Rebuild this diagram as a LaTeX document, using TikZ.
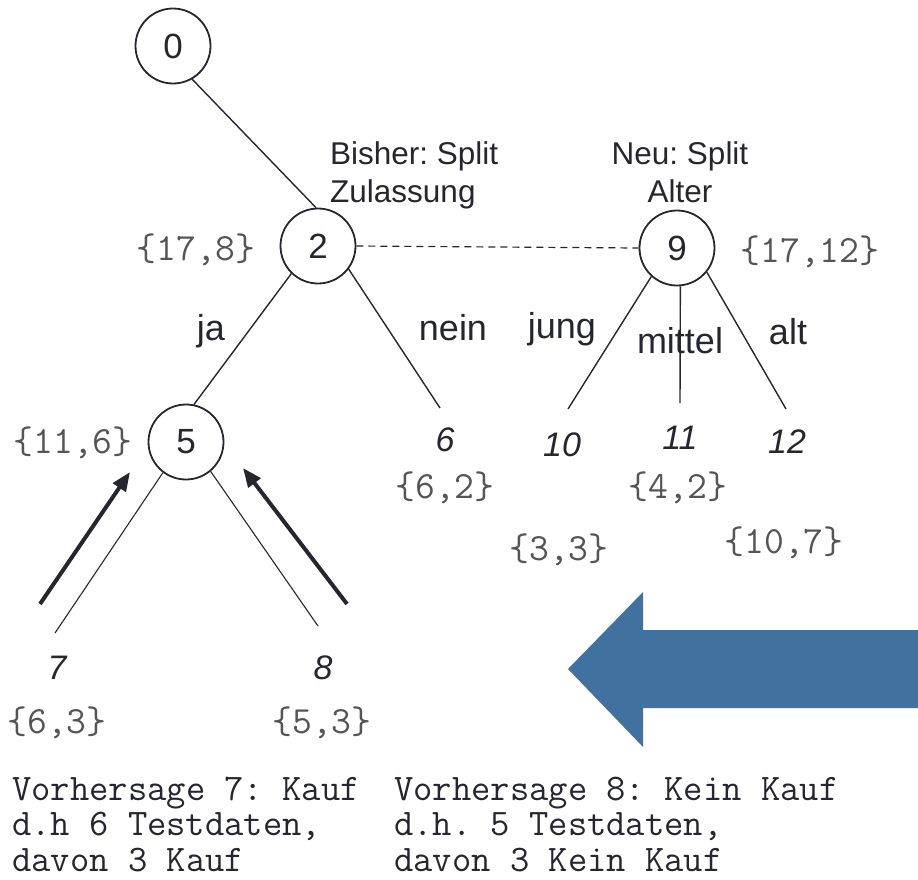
\documentclass[tikz,border=0pt]{standalone}
\usepackage{fontspec}
\setmainfont{Liberation Sans}
\usetikzlibrary{arrows.meta}
\definecolor{ink}{HTML}{262630}
\definecolor{setgray}{HTML}{555555}
\definecolor{arrowblue}{HTML}{41729F}
\frenchspacing
\begin{document}
\begin{tikzpicture}[x=1pt,y=-1pt,
 tnode/.style={circle,draw=ink,line width=1.8pt,minimum size=75pt,inner sep=0pt,font=\fontsize{35}{40}\selectfont,text=ink},
 setlbl/.style={font=\ttfamily\fontsize{38.5}{42}\selectfont,text=setgray,inner sep=0pt},
 leaf/.style={font=\itshape\fontsize{34}{40}\selectfont,text=ink,inner sep=0pt},
 elbl/.style={font=\fontsize{36}{40}\selectfont,text=ink,inner sep=0pt,anchor=base},
 edge/.style={draw=ink,line width=1.4pt},
 thinedge/.style={draw=ink,line width=1.1pt},
 back/.style={draw=ink,line width=4pt,-{Triangle[length=19pt,width=15pt]}},
 note/.style={font=\fontsize{31.5}{38}\selectfont,text=ink,inner sep=0pt},
 pred/.style={font=\ttfamily\frenchspacing\fontsize{37.5}{35.5}\selectfont,text=ink,inner sep=0pt,align=left,anchor=base west}]
\useasboundingbox (0,0) rectangle (918,879);

% tree nodes
\node[tnode] (n0) at (173,46) {0};
\node[tnode] (n2) at (318,246) {2};
\node[tnode] (n9) at (677,248) {9};
\node[tnode] (n5) at (186,442) {5};

% notes (anchor base = baseline of last line)
\node[note,align=left,anchor=base west] (bisher) at (330,202) {Bisher: Split\\Zulassung};
\node[note,align=center,anchor=base] (neu) at (680,202) {Neu: Split\\Alter};

% set labels
\node[setlbl] (s2) at (196,250) {\{17,8\}};
\node[setlbl] (s9) at (810,252) {\{17,12\}};
\node[setlbl] (s5) at (73,443) {\{11,6\}};
\node[setlbl] (s6) at (445,488) {\{6,2\}};
\node[setlbl] (s11) at (678,488) {\{4,2\}};
\node[setlbl] (s10) at (559,550) {\{3,3\}};
\node[setlbl] (s12) at (784,543) {\{10,7\}};
\node[setlbl] (s7) at (57,723) {\{6,3\}};
\node[setlbl] (s8) at (322,723) {\{5,3\}};

% leaf labels
\node[leaf] (l6) at (445,440) {6};
\node[leaf] (l10) at (562,445) {10};
\node[leaf] (l11) at (680,438) {11};
\node[leaf] (l12) at (787,442) {12};
\node[leaf] (l7) at (57,668) {7};
\node[leaf] (l8) at (323,668) {8};

% edge labels
\node[elbl] (ja) at (211,340) {ja};
\node[elbl] (nein) at (453,340) {nein};
\node[elbl] (jung) at (562,338) {jung};
\node[elbl] (mittel) at (680,353) {mittel};
\node[elbl] (alt) at (788,344) {alt};

% free ends of branches
\coordinate (e6) at (440,408);
\coordinate (e10) at (568,409);
\coordinate (e11) at (680,403);
\coordinate (e12) at (786,409);
\coordinate (e7) at (55,633);
\coordinate (e8) at (318,626);

% connectors
\draw[edge] (n0.-60) -- (n2.93);
\draw[edge] (n2.226) -- (n5.78);
\draw[edge] (n2.-37) -- (e6);
\draw[edge] (n9.228) -- (e10);
\draw[edge] (n9.-85) -- (e11);
\draw[edge] (n9.-39) -- (e12);
\draw[thinedge] (n5.233) -- (e7);
\draw[thinedge] (n5.-50) -- (e8);
\draw[draw=ink,line width=1.2pt,dash pattern=on 7pt off 5pt] (n2.east) -- (n9.west);

% thick back-propagation arrows
\coordinate (b7s) at (40,604);
\coordinate (b7e) at (130,472);
\coordinate (b8s) at (347,604);
\coordinate (b8e) at (243,468);
\draw[back] (b7s) -- (b7e);
\draw[back] (b8s) -- (b8e);

% big blue arrow
\fill[arrowblue] (568,669) -- (643,592) -- (643,630) -- (918,630) -- (918,708) -- (643,708) -- (643,747) -- cycle;

% predictions (anchor base = baseline of last line)
\node[pred] (p7) at (12,871) {Vorhersage 7: Kauf\\d.h 6 Testdaten,\\davon 3 Kauf};
\node[pred] (p8) at (394,871) {Vorhersage 8: Kein Kauf\\d.h. 5 Testdaten,\\davon 3 Kein Kauf};
\end{tikzpicture}
\end{document}
